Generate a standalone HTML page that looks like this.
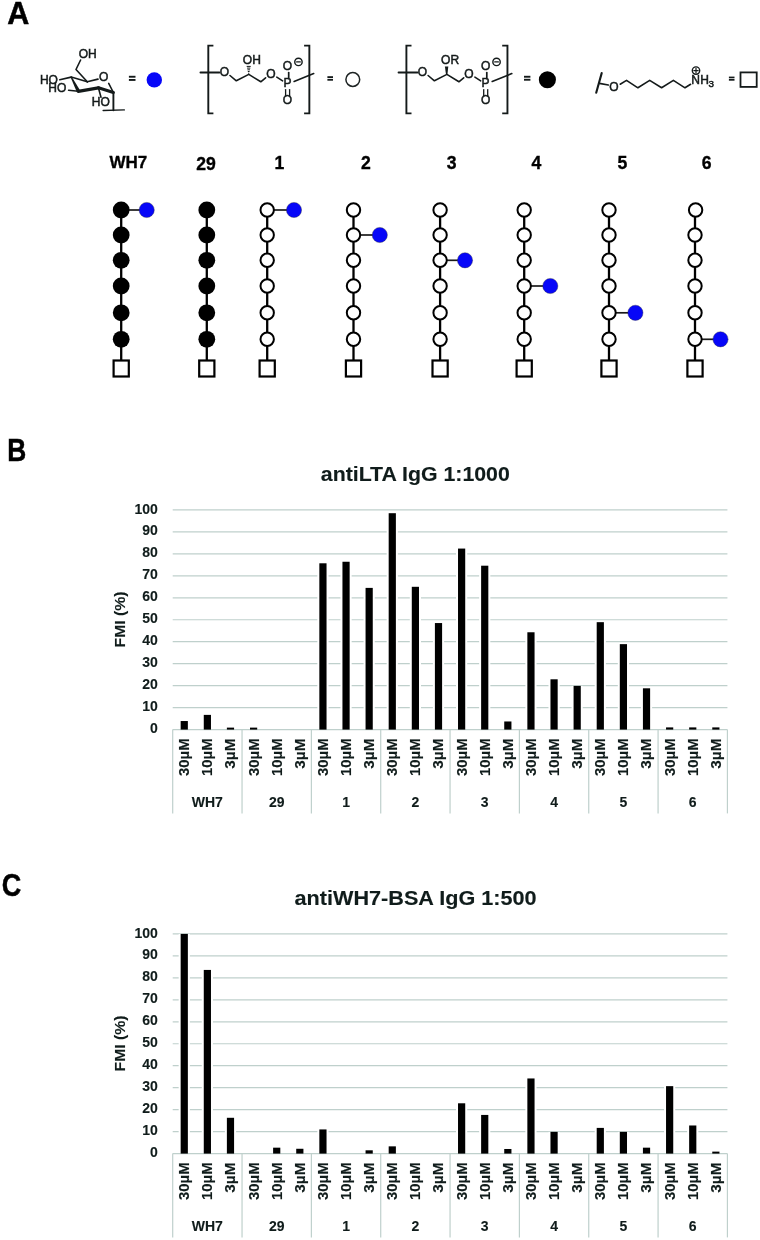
<!DOCTYPE html>
<html><head><meta charset="utf-8"><title>Figure</title>
<style>
html,body{margin:0;padding:0;background:#fff;}
body{width:760px;height:1240px;overflow:hidden;}
svg{display:block;will-change:transform;}
text{font-family:"Liberation Sans",sans-serif;}
.tk{stroke:#101c1b;stroke-width:0.12px;font-size:14px;font-weight:bold;fill:#101c1b;}
.ck{stroke:#101c1b;stroke-width:0.12px;font-size:14.5px;font-weight:bold;fill:#101c1b;}
.gl{stroke:#101c1b;stroke-width:0.12px;font-size:14px;font-weight:bold;fill:#101c1b;}
.yt{stroke:#101c1b;stroke-width:0.12px;font-size:15px;font-weight:bold;fill:#101c1b;}
.ti{stroke:#101c1b;stroke-width:0.12px;font-size:19.5px;font-weight:bold;fill:#101c1b;}
.al{font-size:17px;font-weight:bold;fill:#000;stroke:#000;stroke-width:0.35px;}
.pl{font-size:30.5px;font-weight:bold;fill:#000;stroke:#000;stroke-width:0.5px;}
.ch{font-size:12px;fill:#141a1a;stroke:#141a1a;stroke-width:0.5px;}
</style></head>
<body>
<svg width="760" height="1240" viewBox="0 0 760 1240">
<text x="7.3" y="24.1" class="pl">A</text>
<text x="7.2" y="460.8" class="pl" textLength="19" lengthAdjust="spacingAndGlyphs">B</text>
<text x="1.8" y="896.4" class="pl" textLength="19.5" lengthAdjust="spacingAndGlyphs">C</text>
<text x="87.7" y="57.9" text-anchor="middle" class="ch">OH</text>
<polyline points="80.6,60 76,69.5 87.3,81.8" stroke="#141a1a" stroke-width="1.6" fill="none" stroke-linecap="round" stroke-linejoin="round"/>
<text x="48.95" y="84.4" text-anchor="middle" class="ch">HO</text>
<line x1="59.8" y1="79.7" x2="71.2" y2="77.1" stroke="#141a1a" stroke-width="1.6" stroke-linecap="round"/>
<line x1="71.2" y1="77.1" x2="87.3" y2="81.8" stroke="#141a1a" stroke-width="1.6" stroke-linecap="round"/>
<line x1="87.3" y1="81.8" x2="98" y2="79.1" stroke="#141a1a" stroke-width="1.6" stroke-linecap="round"/>
<text x="103.6" y="80.6" text-anchor="middle" class="ch">O</text>
<line x1="108.7" y1="83.4" x2="113.4" y2="92.5" stroke="#141a1a" stroke-width="1.6" stroke-linecap="round"/>
<polygon points="70.5,77.1 71.9,76.9 80.0,90.3 77.0,92.4" fill="#141a1a"/>
<line x1="78.3" y1="91.3" x2="98.4" y2="87.8" stroke="#141a1a" stroke-width="3.2" stroke-linecap="round"/>
<line x1="98.4" y1="87.8" x2="113.4" y2="92.5" stroke="#141a1a" stroke-width="3.0" stroke-linecap="round"/>
<text x="57.35" y="92.3" text-anchor="middle" class="ch">HO</text>
<line x1="68.6" y1="90.3" x2="78.3" y2="91.3" stroke="#141a1a" stroke-width="1.6" stroke-linecap="round"/>
<line x1="98.4" y1="87.8" x2="101.0" y2="97.2" stroke="#141a1a" stroke-width="1.6" stroke-linecap="round"/>
<text x="100.75" y="106.2" text-anchor="middle" class="ch">HO</text>
<line x1="113.4" y1="92.5" x2="113.4" y2="110.3" stroke="#141a1a" stroke-width="1.9" stroke-linecap="round"/>
<line x1="103.1" y1="110.5" x2="124.4" y2="109.9" stroke="#141a1a" stroke-width="1.3" stroke-linecap="round"/>
<rect x="128.9" y="75.8" width="6.6" height="1.9" fill="#141a1a"/><rect x="128.9" y="79" width="6.6" height="1.9" fill="#141a1a"/>
<circle cx="154.3" cy="79.9" r="7.7" fill="#0606f8"/>
<polyline points="213.4,45.6 208.3,45.6 208.3,113.4 213.4,113.4" stroke="#141a1a" stroke-width="1.9" fill="none"/>
<polyline points="304.1,45.6 309.35,45.6 309.35,113.4 304.1,113.4" stroke="#141a1a" stroke-width="1.9" fill="none"/>
<line x1="200.5" y1="72.6" x2="219.4" y2="72.4" stroke="#141a1a" stroke-width="2.0" stroke-linecap="round"/>
<text x="224.35" y="75.9" text-anchor="middle" class="ch">O</text>
<polyline points="230,75.5 236.3,80.8 248.8,74.4 260.8,81.8 265.6,77.8" stroke="#141a1a" stroke-width="1.6" fill="none" stroke-linecap="round" stroke-linejoin="round"/>
<line x1="248.20" y1="73.20" x2="249.20" y2="73.20" stroke="#141a1a" stroke-width="1.0"/>
<line x1="247.82" y1="71.50" x2="249.58" y2="71.50" stroke="#141a1a" stroke-width="1.0"/>
<line x1="247.44" y1="69.80" x2="249.96" y2="69.80" stroke="#141a1a" stroke-width="1.0"/>
<line x1="247.06" y1="68.10" x2="250.34" y2="68.10" stroke="#141a1a" stroke-width="1.0"/>
<line x1="246.68" y1="66.40" x2="250.72" y2="66.40" stroke="#141a1a" stroke-width="1.0"/>
<text x="251.8" y="63.8" text-anchor="middle" class="ch">OH</text>
<text x="270.9" y="77.7" text-anchor="middle" class="ch">O</text>
<line x1="276.8" y1="77.1" x2="282.6" y2="80.8" stroke="#141a1a" stroke-width="1.6" stroke-linecap="round"/>
<text x="287.4" y="86.8" text-anchor="middle" class="ch">P</text>
<line x1="288.7" y1="72.6" x2="288.7" y2="78.0" stroke="#141a1a" stroke-width="1.7" stroke-linecap="round"/>
<text x="287.5" y="69.6" text-anchor="middle" class="ch">O</text>
<circle cx="298.45" cy="61.9" r="3.7" fill="none" stroke="#141a1a" stroke-width="1.4"/>
<line x1="296.6" y1="61.9" x2="300.3" y2="61.9" stroke="#141a1a" stroke-width="1.2" stroke-linecap="round"/>
<line x1="285.6" y1="89.6" x2="285.6" y2="96.0" stroke="#141a1a" stroke-width="1.3" stroke-linecap="round"/>
<line x1="289.6" y1="89.6" x2="289.6" y2="96.0" stroke="#141a1a" stroke-width="1.3" stroke-linecap="round"/>
<text x="287.5" y="104.2" text-anchor="middle" class="ch">O</text>
<line x1="294.1" y1="81.4" x2="313.7" y2="73.6" stroke="#141a1a" stroke-width="1.6" stroke-linecap="round"/>
<rect x="327.4" y="76.2" width="5.6" height="1.8" fill="#141a1a"/><rect x="327.4" y="78.9" width="5.6" height="1.8" fill="#141a1a"/>
<circle cx="352.8" cy="79.5" r="6.9" fill="none" stroke="#1e2424" stroke-width="1.5"/>
<polyline points="411.5,45.6 406.4,45.6 406.4,113.4 411.5,113.4" stroke="#141a1a" stroke-width="1.9" fill="none"/>
<polyline points="502.20000000000005,45.6 507.45000000000005,45.6 507.45000000000005,113.4 502.20000000000005,113.4" stroke="#141a1a" stroke-width="1.9" fill="none"/>
<line x1="398.6" y1="72.6" x2="417.5" y2="72.4" stroke="#141a1a" stroke-width="2.0" stroke-linecap="round"/>
<text x="422.45" y="75.9" text-anchor="middle" class="ch">O</text>
<polyline points="428.1,75.5 434.4,80.8 446.9,74.4 458.9,81.8 463.70000000000005,77.8" stroke="#141a1a" stroke-width="1.6" fill="none" stroke-linecap="round" stroke-linejoin="round"/>
<polygon points="446.0,74.4 447.4,74.4 448.29999999999995,66.6 444.9,66.6" fill="#141a1a"/>
<text x="450.04999999999995" y="63.8" text-anchor="middle" class="ch">OR</text>
<text x="469.0" y="77.7" text-anchor="middle" class="ch">O</text>
<line x1="474.9" y1="77.1" x2="480.70000000000005" y2="80.8" stroke="#141a1a" stroke-width="1.6" stroke-linecap="round"/>
<text x="485.5" y="86.8" text-anchor="middle" class="ch">P</text>
<line x1="486.79999999999995" y1="72.6" x2="486.79999999999995" y2="78.0" stroke="#141a1a" stroke-width="1.7" stroke-linecap="round"/>
<text x="485.6" y="69.6" text-anchor="middle" class="ch">O</text>
<circle cx="496.54999999999995" cy="61.9" r="3.7" fill="none" stroke="#141a1a" stroke-width="1.4"/>
<line x1="494.70000000000005" y1="61.9" x2="498.4" y2="61.9" stroke="#141a1a" stroke-width="1.2" stroke-linecap="round"/>
<line x1="483.70000000000005" y1="89.6" x2="483.70000000000005" y2="96.0" stroke="#141a1a" stroke-width="1.3" stroke-linecap="round"/>
<line x1="487.70000000000005" y1="89.6" x2="487.70000000000005" y2="96.0" stroke="#141a1a" stroke-width="1.3" stroke-linecap="round"/>
<text x="485.6" y="104.2" text-anchor="middle" class="ch">O</text>
<line x1="492.20000000000005" y1="81.4" x2="511.79999999999995" y2="73.6" stroke="#141a1a" stroke-width="1.6" stroke-linecap="round"/>
<rect x="524" y="75.8" width="6.4" height="1.9" fill="#141a1a"/><rect x="524" y="78.8" width="6.4" height="1.9" fill="#141a1a"/>
<circle cx="547.4" cy="79.8" r="8.55" fill="#000"/>
<line x1="601.7" y1="73.1" x2="596.2" y2="92.8" stroke="#141a1a" stroke-width="2.1" stroke-linecap="round"/>
<line x1="599.4" y1="83.4" x2="608.3" y2="85.0" stroke="#141a1a" stroke-width="1.6" stroke-linecap="round"/>
<text x="614.0" y="90.8" text-anchor="middle" class="ch">O</text>
<polyline points="620.2,84.2 626.5,80.4 637.9,87.8 649.7,80.4 661.6,87.8 673.4,80.4 685,87.8 690.6,84.3" stroke="#141a1a" stroke-width="1.6" fill="none" stroke-linecap="round" stroke-linejoin="round"/>
<text x="695.6" y="84.1" text-anchor="middle" class="ch">N</text>
<text x="704.5" y="84.1" text-anchor="middle" class="ch">H</text>
<text x="711.2" y="86.8" text-anchor="middle" class="ch" style="font-size:9.8px">3</text>
<circle cx="696" cy="70.6" r="3.7" fill="none" stroke="#141a1a" stroke-width="1.4"/>
<line x1="693.8" y1="70.6" x2="698.2" y2="70.6" stroke="#141a1a" stroke-width="1.2" stroke-linecap="round"/>
<line x1="696" y1="68.4" x2="696" y2="72.8" stroke="#141a1a" stroke-width="1.2" stroke-linecap="round"/>
<rect x="728.9" y="76.6" width="5.6" height="1.7" fill="#141a1a"/><rect x="728.9" y="79.0" width="5.6" height="1.7" fill="#141a1a"/>
<rect x="740.5" y="72.4" width="16.2" height="14.5" fill="none" stroke="#141a1a" stroke-width="1.8"/>
<text x="128.4" y="167.8" text-anchor="middle" class="al">WH7</text>
<text x="206.0" y="170.2" text-anchor="middle" class="al" style="font-size:17.6px">29</text>
<text x="279.4" y="168.5" text-anchor="middle" class="al" style="font-size:17.6px">1</text>
<text x="366.0" y="168.7" text-anchor="middle" class="al" style="font-size:17.6px">2</text>
<text x="451.6" y="168.5" text-anchor="middle" class="al" style="font-size:17.6px">3</text>
<text x="536.4" y="168.5" text-anchor="middle" class="al" style="font-size:17.6px">4</text>
<text x="622.3" y="168.5" text-anchor="middle" class="al" style="font-size:17.6px">5</text>
<text x="706.7" y="168.5" text-anchor="middle" class="al" style="font-size:17.6px">6</text>
<line x1="121.20" y1="210.00" x2="121.20" y2="368.50" stroke="#000" stroke-width="2.3"/>
<line x1="121.20" y1="210.00" x2="146.70" y2="210.00" stroke="#1a1a1a" stroke-width="1.7"/>
<circle cx="146.70" cy="210.00" r="7.6" fill="#0606f8" stroke="#2a2a40" stroke-width="0.4"/>
<circle cx="121.20" cy="210.00" r="8.4" fill="#000"/>
<circle cx="121.20" cy="235.00" r="8.4" fill="#000"/>
<circle cx="121.20" cy="260.30" r="8.4" fill="#000"/>
<circle cx="121.20" cy="286.00" r="8.4" fill="#000"/>
<circle cx="121.20" cy="312.80" r="8.4" fill="#000"/>
<circle cx="121.20" cy="339.30" r="8.4" fill="#000"/>
<rect x="113.60" y="360.50" width="15.2" height="16" fill="#fff" stroke="#000" stroke-width="2.2"/>
<line x1="206.80" y1="210.00" x2="206.80" y2="368.50" stroke="#000" stroke-width="2.3"/>
<circle cx="206.80" cy="210.00" r="8.4" fill="#000"/>
<circle cx="206.80" cy="235.00" r="8.4" fill="#000"/>
<circle cx="206.80" cy="260.30" r="8.4" fill="#000"/>
<circle cx="206.80" cy="286.00" r="8.4" fill="#000"/>
<circle cx="206.80" cy="312.80" r="8.4" fill="#000"/>
<circle cx="206.80" cy="339.30" r="8.4" fill="#000"/>
<rect x="199.20" y="360.50" width="15.2" height="16" fill="#fff" stroke="#000" stroke-width="2.2"/>
<line x1="267.20" y1="210.00" x2="267.20" y2="368.50" stroke="#000" stroke-width="2.3"/>
<line x1="267.20" y1="210.00" x2="294.00" y2="210.00" stroke="#1a1a1a" stroke-width="1.7"/>
<circle cx="294.00" cy="210.00" r="7.6" fill="#0606f8" stroke="#2a2a40" stroke-width="0.4"/>
<circle cx="267.20" cy="210.00" r="6.7" fill="#fff" stroke="#000" stroke-width="2"/>
<circle cx="267.20" cy="235.00" r="6.7" fill="#fff" stroke="#000" stroke-width="2"/>
<circle cx="267.20" cy="260.30" r="6.7" fill="#fff" stroke="#000" stroke-width="2"/>
<circle cx="267.20" cy="286.00" r="6.7" fill="#fff" stroke="#000" stroke-width="2"/>
<circle cx="267.20" cy="312.80" r="6.7" fill="#fff" stroke="#000" stroke-width="2"/>
<circle cx="267.20" cy="339.30" r="6.7" fill="#fff" stroke="#000" stroke-width="2"/>
<rect x="259.60" y="360.50" width="15.2" height="16" fill="#fff" stroke="#000" stroke-width="2.2"/>
<line x1="353.50" y1="210.00" x2="353.50" y2="368.50" stroke="#000" stroke-width="2.3"/>
<line x1="353.50" y1="235.00" x2="379.80" y2="235.00" stroke="#1a1a1a" stroke-width="1.7"/>
<circle cx="379.80" cy="235.00" r="7.6" fill="#0606f8" stroke="#2a2a40" stroke-width="0.4"/>
<circle cx="353.50" cy="210.00" r="6.7" fill="#fff" stroke="#000" stroke-width="2"/>
<circle cx="353.50" cy="235.00" r="6.7" fill="#fff" stroke="#000" stroke-width="2"/>
<circle cx="353.50" cy="260.30" r="6.7" fill="#fff" stroke="#000" stroke-width="2"/>
<circle cx="353.50" cy="286.00" r="6.7" fill="#fff" stroke="#000" stroke-width="2"/>
<circle cx="353.50" cy="312.80" r="6.7" fill="#fff" stroke="#000" stroke-width="2"/>
<circle cx="353.50" cy="339.30" r="6.7" fill="#fff" stroke="#000" stroke-width="2"/>
<rect x="345.90" y="360.50" width="15.2" height="16" fill="#fff" stroke="#000" stroke-width="2.2"/>
<line x1="440.10" y1="210.00" x2="440.10" y2="368.50" stroke="#000" stroke-width="2.3"/>
<line x1="440.10" y1="260.30" x2="465.00" y2="260.30" stroke="#1a1a1a" stroke-width="1.7"/>
<circle cx="465.00" cy="260.30" r="7.6" fill="#0606f8" stroke="#2a2a40" stroke-width="0.4"/>
<circle cx="440.10" cy="210.00" r="6.7" fill="#fff" stroke="#000" stroke-width="2"/>
<circle cx="440.10" cy="235.00" r="6.7" fill="#fff" stroke="#000" stroke-width="2"/>
<circle cx="440.10" cy="260.30" r="6.7" fill="#fff" stroke="#000" stroke-width="2"/>
<circle cx="440.10" cy="286.00" r="6.7" fill="#fff" stroke="#000" stroke-width="2"/>
<circle cx="440.10" cy="312.80" r="6.7" fill="#fff" stroke="#000" stroke-width="2"/>
<circle cx="440.10" cy="339.30" r="6.7" fill="#fff" stroke="#000" stroke-width="2"/>
<rect x="432.50" y="360.50" width="15.2" height="16" fill="#fff" stroke="#000" stroke-width="2.2"/>
<line x1="524.20" y1="210.00" x2="524.20" y2="368.50" stroke="#000" stroke-width="2.3"/>
<line x1="524.20" y1="286.00" x2="550.30" y2="286.00" stroke="#1a1a1a" stroke-width="1.7"/>
<circle cx="550.30" cy="286.00" r="7.6" fill="#0606f8" stroke="#2a2a40" stroke-width="0.4"/>
<circle cx="524.20" cy="210.00" r="6.7" fill="#fff" stroke="#000" stroke-width="2"/>
<circle cx="524.20" cy="235.00" r="6.7" fill="#fff" stroke="#000" stroke-width="2"/>
<circle cx="524.20" cy="260.30" r="6.7" fill="#fff" stroke="#000" stroke-width="2"/>
<circle cx="524.20" cy="286.00" r="6.7" fill="#fff" stroke="#000" stroke-width="2"/>
<circle cx="524.20" cy="312.80" r="6.7" fill="#fff" stroke="#000" stroke-width="2"/>
<circle cx="524.20" cy="339.30" r="6.7" fill="#fff" stroke="#000" stroke-width="2"/>
<rect x="516.60" y="360.50" width="15.2" height="16" fill="#fff" stroke="#000" stroke-width="2.2"/>
<line x1="609.00" y1="210.00" x2="609.00" y2="368.50" stroke="#000" stroke-width="2.3"/>
<line x1="609.00" y1="312.80" x2="635.40" y2="312.80" stroke="#1a1a1a" stroke-width="1.7"/>
<circle cx="635.40" cy="312.80" r="7.6" fill="#0606f8" stroke="#2a2a40" stroke-width="0.4"/>
<circle cx="609.00" cy="210.00" r="6.7" fill="#fff" stroke="#000" stroke-width="2"/>
<circle cx="609.00" cy="235.00" r="6.7" fill="#fff" stroke="#000" stroke-width="2"/>
<circle cx="609.00" cy="260.30" r="6.7" fill="#fff" stroke="#000" stroke-width="2"/>
<circle cx="609.00" cy="286.00" r="6.7" fill="#fff" stroke="#000" stroke-width="2"/>
<circle cx="609.00" cy="312.80" r="6.7" fill="#fff" stroke="#000" stroke-width="2"/>
<circle cx="609.00" cy="339.30" r="6.7" fill="#fff" stroke="#000" stroke-width="2"/>
<rect x="601.40" y="360.50" width="15.2" height="16" fill="#fff" stroke="#000" stroke-width="2.2"/>
<line x1="695.00" y1="210.00" x2="695.00" y2="368.50" stroke="#000" stroke-width="2.3"/>
<line x1="695.00" y1="339.30" x2="720.50" y2="339.30" stroke="#1a1a1a" stroke-width="1.7"/>
<circle cx="720.50" cy="339.30" r="7.6" fill="#0606f8" stroke="#2a2a40" stroke-width="0.4"/>
<circle cx="695.60" cy="210.00" r="6.7" fill="#fff" stroke="#000" stroke-width="2"/>
<circle cx="695.00" cy="235.00" r="6.7" fill="#fff" stroke="#000" stroke-width="2"/>
<circle cx="695.00" cy="260.30" r="6.7" fill="#fff" stroke="#000" stroke-width="2"/>
<circle cx="695.00" cy="286.00" r="6.7" fill="#fff" stroke="#000" stroke-width="2"/>
<circle cx="695.00" cy="312.80" r="6.7" fill="#fff" stroke="#000" stroke-width="2"/>
<circle cx="695.00" cy="339.30" r="6.7" fill="#fff" stroke="#000" stroke-width="2"/>
<rect x="687.40" y="360.50" width="15.2" height="16" fill="#fff" stroke="#000" stroke-width="2.2"/>
<line x1="172.70" y1="707.63" x2="727.42" y2="707.63" stroke="#bfd0cc" stroke-width="1.2"/>
<line x1="172.70" y1="685.66" x2="727.42" y2="685.66" stroke="#bfd0cc" stroke-width="1.2"/>
<line x1="172.70" y1="663.69" x2="727.42" y2="663.69" stroke="#bfd0cc" stroke-width="1.2"/>
<line x1="172.70" y1="641.72" x2="727.42" y2="641.72" stroke="#bfd0cc" stroke-width="1.2"/>
<line x1="172.70" y1="619.75" x2="727.42" y2="619.75" stroke="#bfd0cc" stroke-width="1.2"/>
<line x1="172.70" y1="597.78" x2="727.42" y2="597.78" stroke="#bfd0cc" stroke-width="1.2"/>
<line x1="172.70" y1="575.81" x2="727.42" y2="575.81" stroke="#bfd0cc" stroke-width="1.2"/>
<line x1="172.70" y1="553.84" x2="727.42" y2="553.84" stroke="#bfd0cc" stroke-width="1.2"/>
<line x1="172.70" y1="531.87" x2="727.42" y2="531.87" stroke="#bfd0cc" stroke-width="1.2"/>
<line x1="172.70" y1="509.90" x2="727.42" y2="509.90" stroke="#bfd0cc" stroke-width="1.2"/>
<line x1="172.70" y1="729.60" x2="727.42" y2="729.60" stroke="#bfd0cc" stroke-width="1.2"/>
<line x1="172.70" y1="729.60" x2="172.70" y2="813.40" stroke="#bfd0cc" stroke-width="1.2"/>
<line x1="242.04" y1="729.60" x2="242.04" y2="813.40" stroke="#bfd0cc" stroke-width="1.2"/>
<line x1="311.38" y1="729.60" x2="311.38" y2="813.40" stroke="#bfd0cc" stroke-width="1.2"/>
<line x1="380.72" y1="729.60" x2="380.72" y2="813.40" stroke="#bfd0cc" stroke-width="1.2"/>
<line x1="450.06" y1="729.60" x2="450.06" y2="813.40" stroke="#bfd0cc" stroke-width="1.2"/>
<line x1="519.40" y1="729.60" x2="519.40" y2="813.40" stroke="#bfd0cc" stroke-width="1.2"/>
<line x1="588.74" y1="729.60" x2="588.74" y2="813.40" stroke="#bfd0cc" stroke-width="1.2"/>
<line x1="658.08" y1="729.60" x2="658.08" y2="813.40" stroke="#bfd0cc" stroke-width="1.2"/>
<line x1="727.42" y1="729.60" x2="727.42" y2="813.40" stroke="#bfd0cc" stroke-width="1.2"/>
<rect x="178.66" y="721.03" width="11.20" height="7.77" fill="#fff"/>
<rect x="180.66" y="721.03" width="7.2" height="8.57" fill="#000"/>
<rect x="201.77" y="714.88" width="11.20" height="13.92" fill="#fff"/>
<rect x="203.77" y="714.88" width="7.2" height="14.72" fill="#000"/>
<rect x="224.88" y="727.62" width="11.20" height="1.18" fill="#fff"/>
<rect x="226.88" y="727.62" width="7.2" height="1.98" fill="#000"/>
<rect x="248.00" y="727.62" width="11.20" height="1.18" fill="#fff"/>
<rect x="250.00" y="727.62" width="7.2" height="1.98" fill="#000"/>
<rect x="317.34" y="563.29" width="11.20" height="165.51" fill="#fff"/>
<rect x="319.34" y="563.29" width="7.2" height="166.31" fill="#000"/>
<rect x="340.45" y="561.75" width="11.20" height="167.05" fill="#fff"/>
<rect x="342.45" y="561.75" width="7.2" height="167.85" fill="#000"/>
<rect x="363.56" y="587.89" width="11.20" height="140.91" fill="#fff"/>
<rect x="365.56" y="587.89" width="7.2" height="141.71" fill="#000"/>
<rect x="386.68" y="513.20" width="11.20" height="215.60" fill="#fff"/>
<rect x="388.68" y="513.20" width="7.2" height="216.40" fill="#000"/>
<rect x="409.79" y="586.80" width="11.20" height="142.00" fill="#fff"/>
<rect x="411.79" y="586.80" width="7.2" height="142.81" fill="#000"/>
<rect x="432.90" y="623.05" width="11.20" height="105.75" fill="#fff"/>
<rect x="434.90" y="623.05" width="7.2" height="106.55" fill="#000"/>
<rect x="456.02" y="548.57" width="11.20" height="180.23" fill="#fff"/>
<rect x="458.02" y="548.57" width="7.2" height="181.03" fill="#000"/>
<rect x="479.13" y="565.70" width="11.20" height="163.10" fill="#fff"/>
<rect x="481.13" y="565.70" width="7.2" height="163.90" fill="#000"/>
<rect x="502.24" y="721.47" width="11.20" height="7.33" fill="#fff"/>
<rect x="504.24" y="721.47" width="7.2" height="8.13" fill="#000"/>
<rect x="525.36" y="632.27" width="11.20" height="96.53" fill="#fff"/>
<rect x="527.36" y="632.27" width="7.2" height="97.33" fill="#000"/>
<rect x="548.47" y="679.29" width="11.20" height="49.51" fill="#fff"/>
<rect x="550.47" y="679.29" width="7.2" height="50.31" fill="#000"/>
<rect x="571.58" y="685.88" width="11.20" height="42.92" fill="#fff"/>
<rect x="573.58" y="685.88" width="7.2" height="43.72" fill="#000"/>
<rect x="594.70" y="622.17" width="11.20" height="106.63" fill="#fff"/>
<rect x="596.70" y="622.17" width="7.2" height="107.43" fill="#000"/>
<rect x="617.81" y="644.14" width="11.20" height="84.66" fill="#fff"/>
<rect x="619.81" y="644.14" width="7.2" height="85.46" fill="#000"/>
<rect x="640.92" y="688.30" width="11.20" height="40.50" fill="#fff"/>
<rect x="642.92" y="688.30" width="7.2" height="41.30" fill="#000"/>
<rect x="664.04" y="727.40" width="11.20" height="1.40" fill="#fff"/>
<rect x="666.04" y="727.40" width="7.2" height="2.20" fill="#000"/>
<rect x="687.15" y="727.40" width="11.20" height="1.40" fill="#fff"/>
<rect x="689.15" y="727.40" width="7.2" height="2.20" fill="#000"/>
<rect x="710.26" y="727.40" width="11.20" height="1.40" fill="#fff"/>
<rect x="712.26" y="727.40" width="7.2" height="2.20" fill="#000"/>
<text x="157.9" y="733.20" text-anchor="end" class="tk">0</text>
<text x="157.9" y="711.23" text-anchor="end" class="tk">10</text>
<text x="157.9" y="689.26" text-anchor="end" class="tk">20</text>
<text x="157.9" y="667.29" text-anchor="end" class="tk">30</text>
<text x="157.9" y="645.32" text-anchor="end" class="tk">40</text>
<text x="157.9" y="623.35" text-anchor="end" class="tk">50</text>
<text x="157.9" y="601.38" text-anchor="end" class="tk">60</text>
<text x="157.9" y="579.41" text-anchor="end" class="tk">70</text>
<text x="157.9" y="557.44" text-anchor="end" class="tk">80</text>
<text x="157.9" y="535.47" text-anchor="end" class="tk">90</text>
<text x="157.9" y="513.50" text-anchor="end" class="tk">100</text>
<text transform="translate(189.16,738.50) rotate(-90)" text-anchor="end" class="ck" textLength="37.4" lengthAdjust="spacingAndGlyphs">30µM</text>
<text transform="translate(212.27,738.50) rotate(-90)" text-anchor="end" class="ck" textLength="37.4" lengthAdjust="spacingAndGlyphs">10µM</text>
<text transform="translate(235.38,738.50) rotate(-90)" text-anchor="end" class="ck" textLength="30.2" lengthAdjust="spacingAndGlyphs">3µM</text>
<text transform="translate(258.50,738.50) rotate(-90)" text-anchor="end" class="ck" textLength="37.4" lengthAdjust="spacingAndGlyphs">30µM</text>
<text transform="translate(281.61,738.50) rotate(-90)" text-anchor="end" class="ck" textLength="37.4" lengthAdjust="spacingAndGlyphs">10µM</text>
<text transform="translate(304.72,738.50) rotate(-90)" text-anchor="end" class="ck" textLength="30.2" lengthAdjust="spacingAndGlyphs">3µM</text>
<text transform="translate(327.84,738.50) rotate(-90)" text-anchor="end" class="ck" textLength="37.4" lengthAdjust="spacingAndGlyphs">30µM</text>
<text transform="translate(350.95,738.50) rotate(-90)" text-anchor="end" class="ck" textLength="37.4" lengthAdjust="spacingAndGlyphs">10µM</text>
<text transform="translate(374.06,738.50) rotate(-90)" text-anchor="end" class="ck" textLength="30.2" lengthAdjust="spacingAndGlyphs">3µM</text>
<text transform="translate(397.18,738.50) rotate(-90)" text-anchor="end" class="ck" textLength="37.4" lengthAdjust="spacingAndGlyphs">30µM</text>
<text transform="translate(420.29,738.50) rotate(-90)" text-anchor="end" class="ck" textLength="37.4" lengthAdjust="spacingAndGlyphs">10µM</text>
<text transform="translate(443.40,738.50) rotate(-90)" text-anchor="end" class="ck" textLength="30.2" lengthAdjust="spacingAndGlyphs">3µM</text>
<text transform="translate(466.52,738.50) rotate(-90)" text-anchor="end" class="ck" textLength="37.4" lengthAdjust="spacingAndGlyphs">30µM</text>
<text transform="translate(489.63,738.50) rotate(-90)" text-anchor="end" class="ck" textLength="37.4" lengthAdjust="spacingAndGlyphs">10µM</text>
<text transform="translate(512.74,738.50) rotate(-90)" text-anchor="end" class="ck" textLength="30.2" lengthAdjust="spacingAndGlyphs">3µM</text>
<text transform="translate(535.86,738.50) rotate(-90)" text-anchor="end" class="ck" textLength="37.4" lengthAdjust="spacingAndGlyphs">30µM</text>
<text transform="translate(558.97,738.50) rotate(-90)" text-anchor="end" class="ck" textLength="37.4" lengthAdjust="spacingAndGlyphs">10µM</text>
<text transform="translate(582.08,738.50) rotate(-90)" text-anchor="end" class="ck" textLength="30.2" lengthAdjust="spacingAndGlyphs">3µM</text>
<text transform="translate(605.20,738.50) rotate(-90)" text-anchor="end" class="ck" textLength="37.4" lengthAdjust="spacingAndGlyphs">30µM</text>
<text transform="translate(628.31,738.50) rotate(-90)" text-anchor="end" class="ck" textLength="37.4" lengthAdjust="spacingAndGlyphs">10µM</text>
<text transform="translate(651.42,738.50) rotate(-90)" text-anchor="end" class="ck" textLength="30.2" lengthAdjust="spacingAndGlyphs">3µM</text>
<text transform="translate(674.54,738.50) rotate(-90)" text-anchor="end" class="ck" textLength="37.4" lengthAdjust="spacingAndGlyphs">30µM</text>
<text transform="translate(697.65,738.50) rotate(-90)" text-anchor="end" class="ck" textLength="37.4" lengthAdjust="spacingAndGlyphs">10µM</text>
<text transform="translate(720.76,738.50) rotate(-90)" text-anchor="end" class="ck" textLength="30.2" lengthAdjust="spacingAndGlyphs">3µM</text>
<text x="207.37" y="806.70" text-anchor="middle" class="gl">WH7</text>
<text x="276.71" y="806.70" text-anchor="middle" class="gl">29</text>
<text x="346.05" y="806.70" text-anchor="middle" class="gl">1</text>
<text x="415.39" y="806.70" text-anchor="middle" class="gl">2</text>
<text x="484.73" y="806.70" text-anchor="middle" class="gl">3</text>
<text x="554.07" y="806.70" text-anchor="middle" class="gl">4</text>
<text x="623.41" y="806.70" text-anchor="middle" class="gl">5</text>
<text x="692.75" y="806.70" text-anchor="middle" class="gl">6</text>
<text transform="translate(125.1,619.45) rotate(-90)" text-anchor="middle" class="yt" textLength="56" lengthAdjust="spacingAndGlyphs">FMI (%)</text>
<text x="415.30" y="481.20" text-anchor="middle" class="ti" textLength="189" lengthAdjust="spacingAndGlyphs">antiLTA IgG 1:1000</text>
<line x1="172.70" y1="1131.63" x2="727.42" y2="1131.63" stroke="#bfd0cc" stroke-width="1.2"/>
<line x1="172.70" y1="1109.66" x2="727.42" y2="1109.66" stroke="#bfd0cc" stroke-width="1.2"/>
<line x1="172.70" y1="1087.69" x2="727.42" y2="1087.69" stroke="#bfd0cc" stroke-width="1.2"/>
<line x1="172.70" y1="1065.72" x2="727.42" y2="1065.72" stroke="#bfd0cc" stroke-width="1.2"/>
<line x1="172.70" y1="1043.75" x2="727.42" y2="1043.75" stroke="#bfd0cc" stroke-width="1.2"/>
<line x1="172.70" y1="1021.78" x2="727.42" y2="1021.78" stroke="#bfd0cc" stroke-width="1.2"/>
<line x1="172.70" y1="999.81" x2="727.42" y2="999.81" stroke="#bfd0cc" stroke-width="1.2"/>
<line x1="172.70" y1="977.84" x2="727.42" y2="977.84" stroke="#bfd0cc" stroke-width="1.2"/>
<line x1="172.70" y1="955.87" x2="727.42" y2="955.87" stroke="#bfd0cc" stroke-width="1.2"/>
<line x1="172.70" y1="933.90" x2="727.42" y2="933.90" stroke="#bfd0cc" stroke-width="1.2"/>
<line x1="172.70" y1="1153.60" x2="727.42" y2="1153.60" stroke="#bfd0cc" stroke-width="1.2"/>
<line x1="172.70" y1="1153.60" x2="172.70" y2="1237.40" stroke="#bfd0cc" stroke-width="1.2"/>
<line x1="242.04" y1="1153.60" x2="242.04" y2="1237.40" stroke="#bfd0cc" stroke-width="1.2"/>
<line x1="311.38" y1="1153.60" x2="311.38" y2="1237.40" stroke="#bfd0cc" stroke-width="1.2"/>
<line x1="380.72" y1="1153.60" x2="380.72" y2="1237.40" stroke="#bfd0cc" stroke-width="1.2"/>
<line x1="450.06" y1="1153.60" x2="450.06" y2="1237.40" stroke="#bfd0cc" stroke-width="1.2"/>
<line x1="519.40" y1="1153.60" x2="519.40" y2="1237.40" stroke="#bfd0cc" stroke-width="1.2"/>
<line x1="588.74" y1="1153.60" x2="588.74" y2="1237.40" stroke="#bfd0cc" stroke-width="1.2"/>
<line x1="658.08" y1="1153.60" x2="658.08" y2="1237.40" stroke="#bfd0cc" stroke-width="1.2"/>
<line x1="727.42" y1="1153.60" x2="727.42" y2="1237.40" stroke="#bfd0cc" stroke-width="1.2"/>
<rect x="178.66" y="933.90" width="11.20" height="218.90" fill="#fff"/>
<rect x="180.66" y="933.90" width="7.2" height="219.70" fill="#000"/>
<rect x="201.77" y="969.93" width="11.20" height="182.87" fill="#fff"/>
<rect x="203.77" y="969.93" width="7.2" height="183.67" fill="#000"/>
<rect x="224.88" y="1117.79" width="11.20" height="35.01" fill="#fff"/>
<rect x="226.88" y="1117.79" width="7.2" height="35.81" fill="#000"/>
<rect x="271.11" y="1147.67" width="11.20" height="5.13" fill="#fff"/>
<rect x="273.11" y="1147.67" width="7.2" height="5.93" fill="#000"/>
<rect x="294.22" y="1148.77" width="11.20" height="4.03" fill="#fff"/>
<rect x="296.22" y="1148.77" width="7.2" height="4.83" fill="#000"/>
<rect x="317.34" y="1129.43" width="11.20" height="23.37" fill="#fff"/>
<rect x="319.34" y="1129.43" width="7.2" height="24.17" fill="#000"/>
<rect x="363.56" y="1150.30" width="11.20" height="2.50" fill="#fff"/>
<rect x="365.56" y="1150.30" width="7.2" height="3.30" fill="#000"/>
<rect x="386.68" y="1146.35" width="11.20" height="6.45" fill="#fff"/>
<rect x="388.68" y="1146.35" width="7.2" height="7.25" fill="#000"/>
<rect x="456.02" y="1103.29" width="11.20" height="49.51" fill="#fff"/>
<rect x="458.02" y="1103.29" width="7.2" height="50.31" fill="#000"/>
<rect x="479.13" y="1114.93" width="11.20" height="37.87" fill="#fff"/>
<rect x="481.13" y="1114.93" width="7.2" height="38.67" fill="#000"/>
<rect x="502.24" y="1148.99" width="11.20" height="3.81" fill="#fff"/>
<rect x="504.24" y="1148.99" width="7.2" height="4.61" fill="#000"/>
<rect x="525.36" y="1078.46" width="11.20" height="74.34" fill="#fff"/>
<rect x="527.36" y="1078.46" width="7.2" height="75.14" fill="#000"/>
<rect x="548.47" y="1131.85" width="11.20" height="20.95" fill="#fff"/>
<rect x="550.47" y="1131.85" width="7.2" height="21.75" fill="#000"/>
<rect x="594.70" y="1127.90" width="11.20" height="24.90" fill="#fff"/>
<rect x="596.70" y="1127.90" width="7.2" height="25.70" fill="#000"/>
<rect x="617.81" y="1131.85" width="11.20" height="20.95" fill="#fff"/>
<rect x="619.81" y="1131.85" width="7.2" height="21.75" fill="#000"/>
<rect x="640.92" y="1147.67" width="11.20" height="5.13" fill="#fff"/>
<rect x="642.92" y="1147.67" width="7.2" height="5.93" fill="#000"/>
<rect x="664.04" y="1086.15" width="11.20" height="66.65" fill="#fff"/>
<rect x="666.04" y="1086.15" width="7.2" height="67.45" fill="#000"/>
<rect x="687.15" y="1125.48" width="11.20" height="27.32" fill="#fff"/>
<rect x="689.15" y="1125.48" width="7.2" height="28.12" fill="#000"/>
<rect x="710.26" y="1151.62" width="11.20" height="1.18" fill="#fff"/>
<rect x="712.26" y="1151.62" width="7.2" height="1.98" fill="#000"/>
<text x="157.9" y="1157.20" text-anchor="end" class="tk">0</text>
<text x="157.9" y="1135.23" text-anchor="end" class="tk">10</text>
<text x="157.9" y="1113.26" text-anchor="end" class="tk">20</text>
<text x="157.9" y="1091.29" text-anchor="end" class="tk">30</text>
<text x="157.9" y="1069.32" text-anchor="end" class="tk">40</text>
<text x="157.9" y="1047.35" text-anchor="end" class="tk">50</text>
<text x="157.9" y="1025.38" text-anchor="end" class="tk">60</text>
<text x="157.9" y="1003.41" text-anchor="end" class="tk">70</text>
<text x="157.9" y="981.44" text-anchor="end" class="tk">80</text>
<text x="157.9" y="959.47" text-anchor="end" class="tk">90</text>
<text x="157.9" y="937.50" text-anchor="end" class="tk">100</text>
<text transform="translate(189.16,1162.50) rotate(-90)" text-anchor="end" class="ck" textLength="37.4" lengthAdjust="spacingAndGlyphs">30µM</text>
<text transform="translate(212.27,1162.50) rotate(-90)" text-anchor="end" class="ck" textLength="37.4" lengthAdjust="spacingAndGlyphs">10µM</text>
<text transform="translate(235.38,1162.50) rotate(-90)" text-anchor="end" class="ck" textLength="30.2" lengthAdjust="spacingAndGlyphs">3µM</text>
<text transform="translate(258.50,1162.50) rotate(-90)" text-anchor="end" class="ck" textLength="37.4" lengthAdjust="spacingAndGlyphs">30µM</text>
<text transform="translate(281.61,1162.50) rotate(-90)" text-anchor="end" class="ck" textLength="37.4" lengthAdjust="spacingAndGlyphs">10µM</text>
<text transform="translate(304.72,1162.50) rotate(-90)" text-anchor="end" class="ck" textLength="30.2" lengthAdjust="spacingAndGlyphs">3µM</text>
<text transform="translate(327.84,1162.50) rotate(-90)" text-anchor="end" class="ck" textLength="37.4" lengthAdjust="spacingAndGlyphs">30µM</text>
<text transform="translate(350.95,1162.50) rotate(-90)" text-anchor="end" class="ck" textLength="37.4" lengthAdjust="spacingAndGlyphs">10µM</text>
<text transform="translate(374.06,1162.50) rotate(-90)" text-anchor="end" class="ck" textLength="30.2" lengthAdjust="spacingAndGlyphs">3µM</text>
<text transform="translate(397.18,1162.50) rotate(-90)" text-anchor="end" class="ck" textLength="37.4" lengthAdjust="spacingAndGlyphs">30µM</text>
<text transform="translate(420.29,1162.50) rotate(-90)" text-anchor="end" class="ck" textLength="37.4" lengthAdjust="spacingAndGlyphs">10µM</text>
<text transform="translate(443.40,1162.50) rotate(-90)" text-anchor="end" class="ck" textLength="30.2" lengthAdjust="spacingAndGlyphs">3µM</text>
<text transform="translate(466.52,1162.50) rotate(-90)" text-anchor="end" class="ck" textLength="37.4" lengthAdjust="spacingAndGlyphs">30µM</text>
<text transform="translate(489.63,1162.50) rotate(-90)" text-anchor="end" class="ck" textLength="37.4" lengthAdjust="spacingAndGlyphs">10µM</text>
<text transform="translate(512.74,1162.50) rotate(-90)" text-anchor="end" class="ck" textLength="30.2" lengthAdjust="spacingAndGlyphs">3µM</text>
<text transform="translate(535.86,1162.50) rotate(-90)" text-anchor="end" class="ck" textLength="37.4" lengthAdjust="spacingAndGlyphs">30µM</text>
<text transform="translate(558.97,1162.50) rotate(-90)" text-anchor="end" class="ck" textLength="37.4" lengthAdjust="spacingAndGlyphs">10µM</text>
<text transform="translate(582.08,1162.50) rotate(-90)" text-anchor="end" class="ck" textLength="30.2" lengthAdjust="spacingAndGlyphs">3µM</text>
<text transform="translate(605.20,1162.50) rotate(-90)" text-anchor="end" class="ck" textLength="37.4" lengthAdjust="spacingAndGlyphs">30µM</text>
<text transform="translate(628.31,1162.50) rotate(-90)" text-anchor="end" class="ck" textLength="37.4" lengthAdjust="spacingAndGlyphs">10µM</text>
<text transform="translate(651.42,1162.50) rotate(-90)" text-anchor="end" class="ck" textLength="30.2" lengthAdjust="spacingAndGlyphs">3µM</text>
<text transform="translate(674.54,1162.50) rotate(-90)" text-anchor="end" class="ck" textLength="37.4" lengthAdjust="spacingAndGlyphs">30µM</text>
<text transform="translate(697.65,1162.50) rotate(-90)" text-anchor="end" class="ck" textLength="37.4" lengthAdjust="spacingAndGlyphs">10µM</text>
<text transform="translate(720.76,1162.50) rotate(-90)" text-anchor="end" class="ck" textLength="30.2" lengthAdjust="spacingAndGlyphs">3µM</text>
<text x="207.37" y="1230.70" text-anchor="middle" class="gl">WH7</text>
<text x="276.71" y="1230.70" text-anchor="middle" class="gl">29</text>
<text x="346.05" y="1230.70" text-anchor="middle" class="gl">1</text>
<text x="415.39" y="1230.70" text-anchor="middle" class="gl">2</text>
<text x="484.73" y="1230.70" text-anchor="middle" class="gl">3</text>
<text x="554.07" y="1230.70" text-anchor="middle" class="gl">4</text>
<text x="623.41" y="1230.70" text-anchor="middle" class="gl">5</text>
<text x="692.75" y="1230.70" text-anchor="middle" class="gl">6</text>
<text transform="translate(125.1,1043.45) rotate(-90)" text-anchor="middle" class="yt" textLength="56" lengthAdjust="spacingAndGlyphs">FMI (%)</text>
<text x="415.60" y="905.20" text-anchor="middle" class="ti" textLength="242" lengthAdjust="spacingAndGlyphs">antiWH7-BSA IgG 1:500</text>
</svg>
</body></html>
